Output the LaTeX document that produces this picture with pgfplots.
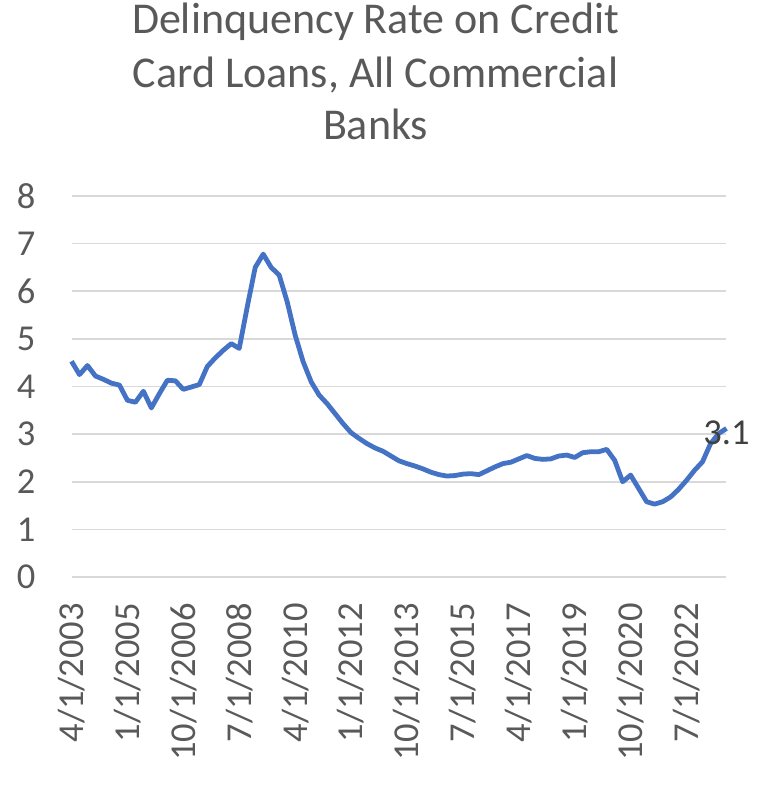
\documentclass[border=0pt]{standalone}
\usepackage{fontspec}
\setmainfont{Carlito}
\usepackage{pgfplots}
\pgfplotsset{compat=1.18}
\definecolor{linecol}{HTML}{4472C4}
\definecolor{gridcol}{HTML}{D9D9D9}
\definecolor{txtcol}{HTML}{595959}
\definecolor{lblcol}{HTML}{404040}
\begin{document}
\begin{tikzpicture}[x=1pt,y=1pt]
\useasboundingbox (0,0) rectangle (769,792);
\node[anchor=base, text=txtcol, font=\fontsize{44}{52}\selectfont, inner sep=0pt] at (375.5,758.7) {Delinquency Rate on Credit};
\node[anchor=base, text=txtcol, font=\fontsize{44}{52}\selectfont, inner sep=0pt] at (375.5,704.7) {Card Loans, All Commercial};
\node[anchor=base, text=txtcol, font=\fontsize{44}{52}\selectfont, inner sep=0pt] at (375.5,652) {Banks};
\begin{axis}[
  at={(71.5pt,215pt)}, anchor=south west,
  scale only axis, width=655pt, height=381pt,
  xmin=0, xmax=82, ymin=0, ymax=8,
  axis line style={draw=none},
  ymajorgrids, grid style={gridcol, line width=1.6pt},
  major tick length=0pt,
  ytick={0,1,...,8},
  xtick={0,7,...,77},
  xticklabels={4/1/2003,1/1/2005,10/1/2006,7/1/2008,4/1/2010,1/1/2012,10/1/2013,7/1/2015,4/1/2017,1/1/2019,10/1/2020,7/1/2022},
  /pgf/number format/assume math mode=true,
  tick label style={font=\fontsize{36.5}{40}\selectfont, text=txtcol, inner sep=0pt},
  xticklabel style={rotate=90, anchor=east},
  yticklabel style={anchor=east},
  xticklabel shift=26pt,
  yticklabel shift=36pt,
  clip=false,
]
\addplot[linecol, line width=4.8pt, line join=round, no markers] coordinates {
(0,4.53)(1,4.25)(2,4.44)(3,4.22)(4,4.15)(5,4.07)(6,4.03)(7,3.71)(8,3.67)(9,3.90)
(10,3.55)(11,3.85)(12,4.13)(13,4.12)(14,3.94)(15,3.99)(16,4.04)(17,4.42)(18,4.60)(19,4.76)
(20,4.90)(21,4.80)(22,5.67)(23,6.50)(24,6.78)(25,6.50)(26,6.34)(27,5.78)(28,5.08)(29,4.52)
(30,4.10)(31,3.82)(32,3.64)(33,3.43)(34,3.22)(35,3.03)(36,2.91)(37,2.80)(38,2.71)(39,2.64)
(40,2.54)(41,2.44)(42,2.38)(43,2.33)(44,2.27)(45,2.20)(46,2.15)(47,2.12)(48,2.13)(49,2.16)
(50,2.17)(51,2.15)(52,2.23)(53,2.31)(54,2.38)(55,2.41)(56,2.48)(57,2.55)(58,2.49)(59,2.47)
(60,2.48)(61,2.54)(62,2.56)(63,2.51)(64,2.61)(65,2.63)(66,2.63)(67,2.68)(68,2.45)(69,2.00)
(70,2.14)(71,1.86)(72,1.58)(73,1.53)(74,1.58)(75,1.68)(76,1.84)(77,2.03)(78,2.24)(79,2.42)
(80,2.80)(81,3.01)(82,3.12)
};
\addplot[draw=none, no markers,
  nodes near coords={3.1},
  every node near coord/.append style={anchor=center, yshift=-4pt, font=\fontsize{36.5}{40}\selectfont, text=lblcol, inner sep=0pt}
] coordinates {(82,3.12)};
\end{axis}
\end{tikzpicture}
\end{document}
